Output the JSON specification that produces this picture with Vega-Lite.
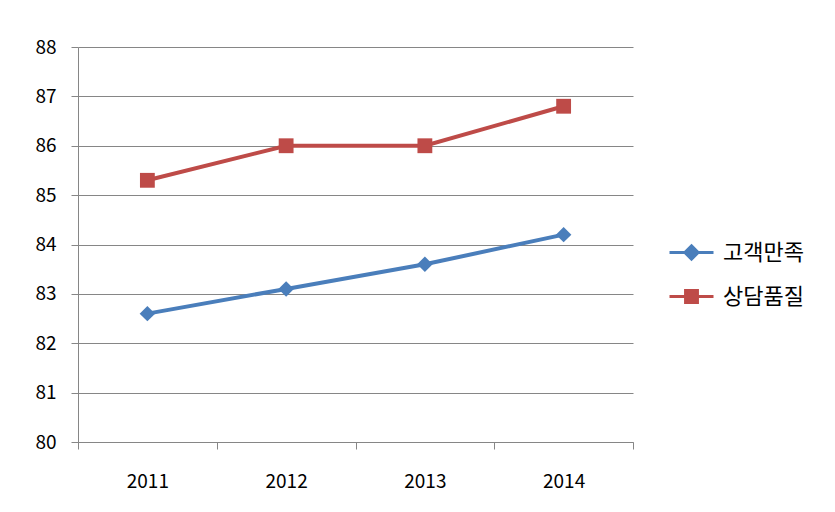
{
  "$schema": "https://vega.github.io/schema/vega-lite/v6.json",
  "width": 555,
  "height": 395,
  "autosize": {"type": "none"},
  "padding": {"left": 78, "top": 47, "right": 202, "bottom": 70},
  "background": "white",
  "config": {"view": {"stroke": null}, "font": "Noto Sans CJK KR"},
  "data": {
    "values": [
      {"year": "2011", "series": "고객만족", "value": 82.6},
      {"year": "2012", "series": "고객만족", "value": 83.1},
      {"year": "2013", "series": "고객만족", "value": 83.6},
      {"year": "2014", "series": "고객만족", "value": 84.2},
      {"year": "2011", "series": "상담품질", "value": 85.3},
      {"year": "2012", "series": "상담품질", "value": 86.0},
      {"year": "2013", "series": "상담품질", "value": 86.0},
      {"year": "2014", "series": "상담품질", "value": 86.8}
    ]
  },
  "encoding": {
    "x": {
      "field": "year",
      "type": "ordinal",
      "scale": {"type": "band", "paddingInner": 0, "paddingOuter": 0},
      "axis": {
        "title": null,
        "labelAngle": 0,
        "tickBand": "extent",
        "tickSize": 7,
        "labelPadding": 23,
        "labelFontSize": 19,
        "labelColor": "#000000",
        "domainColor": "#868686",
        "tickColor": "#868686",
        "grid": false
      }
    },
    "y": {
      "field": "value",
      "type": "quantitative",
      "scale": {"domain": [80, 88], "nice": false, "zero": false},
      "axis": {
        "title": null,
        "values": [80, 81, 82, 83, 84, 85, 86, 87, 88],
        "tickSize": 7,
        "labelPadding": 15,
        "labelFontSize": 19,
        "labelColor": "#000000",
        "domainColor": "#868686",
        "tickColor": "#868686",
        "gridColor": "#868686",
        "grid": true
      }
    },
    "color": {
      "field": "series",
      "type": "nominal",
      "scale": {"domain": ["고객만족", "상담품질"], "range": ["#4A7EBB", "#BE4B48"]},
      "legend": {
        "title": null,
        "orient": "none",
        "legendX": 590,
        "legendY": 182,
        "padding": 0,
        "symbolSize": 1936,
        "symbolStrokeWidth": 3,
        "labelFontSize": 22,
        "labelColor": "#000000",
        "labelOffset": 8,
        "rowPadding": 7,
        "encoding": {
          "symbols": {
            "shape": {
              "value": {"expr": "datum.value === '고객만족' ? 'M-1,0H1M0,-0.3L0.3,0L0,0.3L-0.3,0Z' : 'M-1,0H1M-0.27,-0.27H0.27V0.27H-0.27Z'"}
            },
            "fill": {
              "condition": {"test": "datum.value === '고객만족'", "value": "#4A7EBB"},
              "value": "#BE4B48"
            },
            "stroke": {
              "condition": {"test": "datum.value === '고객만족'", "value": "#4A7EBB"},
              "value": "#BE4B48"
            },
            "opacity": {"value": 1}
          }
        }
      }
    }
  },
  "layer": [
    {"mark": {"type": "line", "strokeWidth": 4}},
    {
      "transform": [{"filter": "datum.series === '고객만족'"}],
      "mark": {"type": "point", "shape": "diamond", "filled": true, "opacity": 1, "size": 240}
    },
    {
      "transform": [{"filter": "datum.series === '상담품질'"}],
      "mark": {"type": "point", "shape": "square", "filled": true, "opacity": 1, "size": 220}
    }
  ]
}
